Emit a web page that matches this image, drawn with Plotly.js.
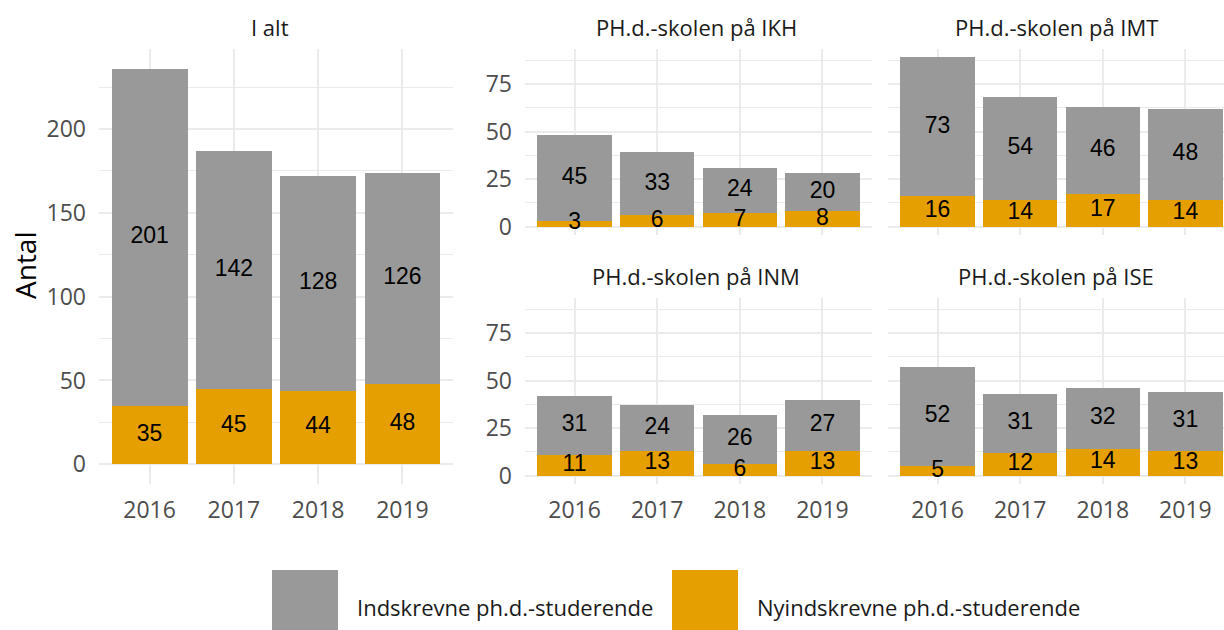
<!DOCTYPE html>
<html><head><meta charset="utf-8">
<script src="https://cdn.plot.ly/plotly-3.0.1.min.js"></script>
<style>html,body{margin:0;padding:0;background:#fff}</style>
</head><body><div id="chart" style="width:1224px;height:630px"></div>
<script>
const years = ['2016','2017','2018','2019'];
const seriesNames = ['Indskrevne ph.d.-studerende','Nyindskrevne ph.d.-studerende'];
const panelTitles = ['I alt','PH.d.-skolen på IKH','PH.d.-skolen på IMT','PH.d.-skolen på INM','PH.d.-skolen på ISE'];
const indskrevneIAlt = [201,142,128,126];
const nyindskrevneIAlt = [35,45,44,48];
const indskrevneIKH = [45,33,24,20];
const nyindskrevneIKH = [3,6,7,8];
const indskrevneIMT = [73,54,46,48];
const nyindskrevneIMT = [16,14,17,14];
const indskrevneINM = [31,24,26,27];
const nyindskrevneINM = [11,13,6,13];
const indskrevneISE = [52,31,32,31];
const nyindskrevneISE = [5,12,14,13];
const yLabel = 'Antal';

const colGrey = '#999999', colOrange = '#E69F00';
const FONT = 'Open Sans';
const W = 1224, H = 630;

const panels = [
  {ind: indskrevneIAlt, ny: nyindskrevneIAlt, ax: '', px: [99, 453], py: [49, 484], xr: [-0.6, 3.6], big: true, xt: true, yt: true},
  {ind: indskrevneIKH, ny: nyindskrevneIKH, ax: '2', px: [525, 872], py: [49, 235], xr: [-0.6, 3.6], xt: false, yt: true},
  {ind: indskrevneIMT, ny: nyindskrevneIMT, ax: '3', px: [888, 1224], py: [49, 235], xr: [-0.6, 3.467], xt: false, yt: false},
  {ind: indskrevneINM, ny: nyindskrevneINM, ax: '4', px: [525, 872], py: [298, 484], xr: [-0.6, 3.6], xt: true, yt: true},
  {ind: indskrevneISE, ny: nyindskrevneISE, ax: '5', px: [888, 1224], py: [298, 484], xr: [-0.6, 3.467], xt: true, yt: false}
];

const allSmall = panels.slice(1).map(p => p.ind.map((v, i) => v + p.ny[i]));
const smallMax = Math.max(...allSmall.flat());
const bigMax = Math.max(...panels[0].ind.map((v, i) => v + panels[0].ny[i]));

const traces = [];
const layout = {
  width: W, height: H,
  margin: {l: 0, r: 0, t: 0, b: 0},
  paper_bgcolor: '#fff', plot_bgcolor: '#fff',
  barmode: 'stack', showlegend: false,
  font: {family: FONT, color: '#1a1a1a'},
  annotations: [], shapes: []
};

panels.forEach((p, k) => {
  const xa = 'x' + p.ax, ya = 'y' + p.ax;
  traces.push({type: 'bar', name: seriesNames[1], x: years, y: p.ny, xaxis: xa, yaxis: ya,
    marker: {color: colOrange, line: {width: 0}}, width: 0.9, hoverinfo: 'y'});
  traces.push({type: 'bar', name: seriesNames[0], x: years, y: p.ind, xaxis: xa, yaxis: ya,
    marker: {color: colGrey, line: {width: 0}}, width: 0.9, hoverinfo: 'y'});
  const xs = years.concat(years);
  const ys = p.ny.map(v => v / 2).concat(p.ind.map((v, i) => p.ny[i] + v / 2));
  const ts = p.ny.map(String).concat(p.ind.map(String));
  traces.push({type: 'scatter', mode: 'text', x: xs, y: ys, text: ts, xaxis: xa, yaxis: ya,
    textposition: 'middle center', cliponaxis: false, hoverinfo: 'skip',
    textfont: {family: 'Liberation Sans', size: 23, color: '#000'}});

  const max = p.big ? bigMax : smallMax;
  const pad = max * 0.05;
  const dt = p.big ? 50 : 25;
  const xKey = 'xaxis' + p.ax, yKey = 'yaxis' + p.ax;
  layout[xKey] = {
    type: 'category', anchor: ya, domain: [p.px[0] / W, p.px[1] / W], range: p.xr,
    showgrid: true, gridcolor: '#ebebeb', gridwidth: 2, zeroline: false, showline: false, ticks: '',
    showticklabels: p.xt, ticklabelstandoff: 10,
    tickfont: {family: FONT, size: 23, color: '#4d4d4d'}, fixedrange: true
  };
  layout[yKey] = {
    anchor: xa, domain: [1 - p.py[1] / H, 1 - p.py[0] / H], range: [-pad, max + pad],
    tick0: 0, dtick: dt, showgrid: true, gridcolor: '#ebebeb', gridwidth: 2,
    minor: {dtick: dt / 2, tick0: 0, showgrid: true, gridcolor: '#ebebeb', gridwidth: 1, ticks: ''},
    zeroline: false, showline: false, ticks: '', showticklabels: p.yt, ticklabelstandoff: 12,
    tickfont: {family: FONT, size: 23, color: '#4d4d4d'}, fixedrange: true
  };
  layout.annotations.push({
    text: panelTitles[k], xref: 'paper', yref: 'paper', showarrow: false,
    x: (p.px[0] + Math.min(p.px[1], p.px[0] + 342)) / 2 / W, y: 1 - (p.py[0] - 22) / H,
    xanchor: 'center', yanchor: 'middle', font: {family: FONT, size: 22, color: '#1a1a1a'}
  });
});

layout.annotations.push({text: yLabel, xref: 'paper', yref: 'paper', showarrow: false,
  x: 25 / W, y: 1 - 266 / H, textangle: -90, xanchor: 'center', yanchor: 'middle',
  font: {family: FONT, size: 28, color: '#000'}});

const legendItems = [
  {name: seriesNames[0], color: colGrey, kx: 272},
  {name: seriesNames[1], color: colOrange, kx: 672}
];
legendItems.forEach(it => {
  layout.shapes.push({type: 'rect', xref: 'paper', yref: 'paper',
    x0: it.kx / W, x1: (it.kx + 66) / W, y0: 0, y1: 1 - 570 / H,
    fillcolor: it.color, line: {width: 0}});
  layout.annotations.push({text: it.name, xref: 'paper', yref: 'paper', showarrow: false,
    x: (it.kx + 83) / W, y: 1 - 607 / H, xanchor: 'left', yanchor: 'middle',
    font: {family: FONT, size: 22, color: '#1a1a1a'}});
});

Plotly.newPlot('chart', traces, layout, {displayModeBar: false, staticPlot: true});
</script></body></html>
